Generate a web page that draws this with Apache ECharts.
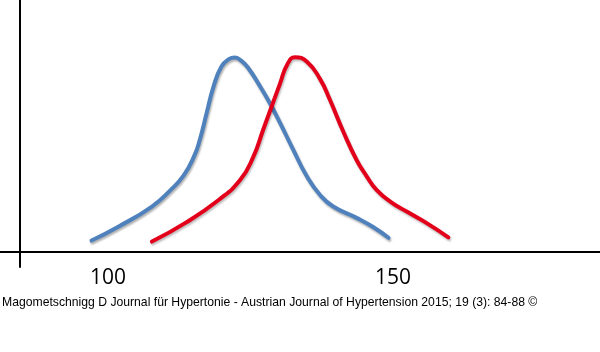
<!DOCTYPE html>
<html lang="en">
  <head>
    <meta charset="utf-8" />
    <title>Blood pressure distribution</title>
    <script src="https://cdn.jsdelivr.net/npm/echarts@6/dist/echarts.min.js"></script>
    <style>
      html, body { margin: 0; padding: 0; background: #fff; }
      #chart { width: 600px; height: 352px; }
    </style>
  </head>
  <body>
    <div id="chart"></div>
    <script>
      // values (x = pressure, y = relative frequency)
      var blueX = [97.1, 101.8, 107.7, 111.0, 113.3, 115.1, 116.1, 117.3, 118.5, 119.9, 121.2, 122.2, 123.3, 124.5, 126.7, 128.4, 130.2, 132.5, 134.9, 137.2, 139.5, 143.6, 146.5, 149.2]
      var blueY = [4.5, 10.0, 18.0, 24.6, 30.5, 38.0, 44.5, 55.1, 65.6, 73.6, 76.5, 77.2, 76.0, 73.3, 65.6, 59.0, 51.1, 40.5, 29.9, 22.6, 18.0, 13.5, 9.9, 5.6]
      var redX = [107.7, 113.5, 119.4, 123.2, 125.5, 127.2, 128.7, 130.2, 131.4, 132.8, 134.9, 137.2, 138.9, 141.3, 143.6, 145.4, 147.1, 149.5, 152.4, 155.9, 159.7]
      var redY = [4.1, 11.4, 20.6, 28.6, 37.8, 48.4, 57.7, 67.0, 74.2, 77.3, 75.5, 68.6, 60.5, 47.6, 36.5, 29.9, 24.6, 20.0, 16.0, 11.4, 5.8]
      var xTicks = [100, 150]
      var caption = 'Magometschnigg D Journal für Hypertonie - Austrian Journal of Hypertension 2015; 19 (3): 84-88 ©'

      function pairs(xs, ys) {
        return xs.map(function (x, i) { return [x, ys[i]] })
      }

      var chart = echarts.init(document.getElementById('chart'), null, { renderer: 'canvas' })
      chart.setOption({
        animation: false,
        backgroundColor: '#fff',
        title: {
          text: caption,
          left: -3,
          top: 292,
          textStyle: { fontFamily: 'Liberation Sans', fontSize: 12.2, fontWeight: 'normal', color: '#000' }
        },
        grid: { left: 0, right: 0, top: 0, bottom: 85 },
        xAxis: {
          type: 'value',
          min: 81.05,
          max: 186.3,
          splitLine: { show: false },
          axisLine: { onZero: true, lineStyle: { color: '#000', width: 2 } },
          axisTick: { show: false },
          axisLabel: {
            customValues: xTicks,
            margin: 1,
            fontFamily: 'Open Sans',
            fontSize: 21,
            color: '#000'
          }
        },
        yAxis: {
          type: 'value',
          min: -6,
          max: 100,
          offset: -20,
          splitLine: { show: false },
          axisLine: { show: true, onZero: false, lineStyle: { color: '#000', width: 2 } },
          axisTick: { show: false },
          axisLabel: { show: false }
        },
        series: [
          {
            type: 'line',
            data: pairs(blueX, blueY),
            smooth: 0.5,
            showSymbol: false,
            lineStyle: {
              color: '#4f81bd', width: 4, cap: 'round',
              shadowColor: 'rgba(0,0,0,0.3)', shadowBlur: 2, shadowOffsetX: 1, shadowOffsetY: 2
            }
          },
          {
            type: 'line',
            data: pairs(redX, redY),
            smooth: 0.5,
            showSymbol: false,
            lineStyle: {
              color: '#e3001b', width: 4, cap: 'round',
              shadowColor: 'rgba(0,0,0,0.25)', shadowBlur: 2, shadowOffsetX: 1, shadowOffsetY: 2
            }
          }
        ]
      })
    </script>
  </body>
</html>
